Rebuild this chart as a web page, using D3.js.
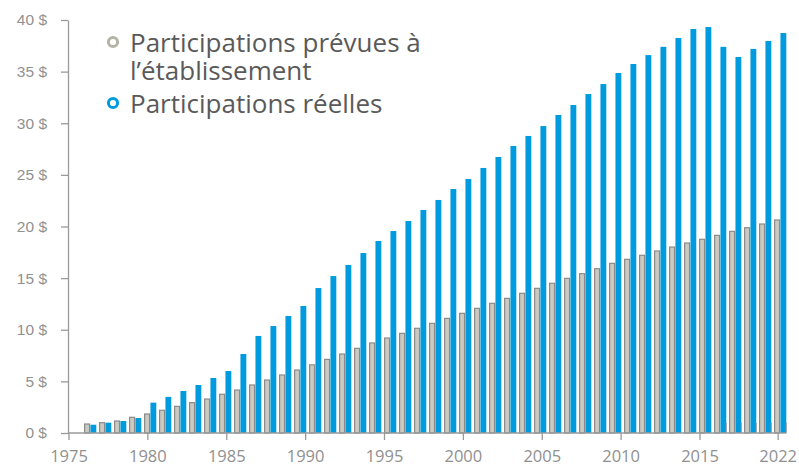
<!DOCTYPE html>
<html>
<head>
<meta charset="utf-8">
<script src="https://cdn.jsdelivr.net/npm/d3@7"></script>
<style>
  body { margin: 0; background: #fff; }
  svg { font-family: "Open Sans", Lato, sans-serif; }
</style>
</head>
<body>
<div id="viz-container"></div>
<script>
const years = d3.range(1976, 2023);
const prevues = [0.87, 1.0, 1.16, 1.52, 1.84, 2.2, 2.58, 2.94, 3.29, 3.75,
  4.16, 4.65, 5.13, 5.62, 6.1, 6.6, 7.13, 7.65, 8.2, 8.72,
  9.2, 9.65, 10.14, 10.62, 11.1, 11.59, 12.07, 12.56, 13.04, 13.53,
  14.01, 14.5, 14.98, 15.43, 15.91, 16.43, 16.82, 17.21, 17.63, 18.01,
  18.4, 18.76, 19.14, 19.53, 19.88, 20.24, 20.63];
const reelles = [0.8, 1.0, 1.16, 1.45, 2.94, 3.5, 4.07, 4.65, 5.33, 6.0,
  7.65, 9.4, 10.36, 11.33, 12.3, 14.04, 15.2, 16.27, 17.43, 18.6,
  19.56, 20.53, 21.6, 22.57, 23.63, 24.6, 25.67, 26.73, 27.8, 28.77,
  29.73, 30.8, 31.77, 32.83, 33.8, 34.87, 35.74, 36.6, 37.4, 38.26,
  39.13, 39.32, 37.4, 36.42, 37.2, 37.97, 38.74];
const yTicks = [0, 5, 10, 15, 20, 25, 30, 35, 40];
const xTicks = [1975, 1980, 1985, 1990, 1995, 2000, 2005, 2010, 2015];
const lastTick = 2022;
const series = ['prevues', 'reelles'];
const legendLabels = [['Participations prévues à', 'l\u2019établissement'], ['Participations réelles']];

const width = 799, height = 466;
const colors = { prevues: '#cbcac0', reelles: '#009bde' };
const axisColor = '#9a9a9a';

const svg = d3.select('#viz-container')
  .append('svg')
    .attr('width', width)
    .attr('height', height);

const y = d3.scaleLinear().domain([0, 40]).range([433, 20]);
const x = d3.scaleBand().domain(years).range([82.5, 787.8])
  .paddingInner(0.18).paddingOuter(0.1);
const xs = d3.scaleBand().domain(series).range([0, x.bandwidth()]);
// tick labels sit on their own (slightly wider) scale, as in the original
const xt = d3.scaleLinear().domain([1975, 2015]).range([69, 700]);

const data = years.map((yr, i) => ({ year: yr, prevues: prevues[i], reelles: reelles[i] }));

// bars
const groups = svg.append('g').selectAll('g')
  .data(data)
  .enter()
  .append('g')
    .attr('transform', d => 'translate(' + x(d.year) + ',0)');

groups.append('rect')
  .attr('x', xs('prevues') + 0.6)
  .attr('width', xs.bandwidth() - 1.2)
  .attr('y', d => y(d.prevues))
  .attr('height', d => y(0) - y(d.prevues))
  .attr('fill', colors.prevues)
  .attr('stroke', '#8a8a8a')
  .attr('stroke-width', 1.2);

groups.append('rect')
  .attr('x', xs('reelles') + 0.3)
  .attr('width', xs.bandwidth() - 0.3)
  .attr('y', d => y(d.reelles))
  .attr('height', d => y(0) - y(d.reelles))
  .attr('fill', colors.reelles);

// y axis
const yAxis = svg.append('g')
  .attr('transform', 'translate(68,0)')
  .call(d3.axisLeft(y).tickValues(yTicks).tickSize(7).tickSizeOuter(0).tickPadding(14)
    .tickFormat(d => d + ' $'));
yAxis.selectAll('path, line').attr('stroke', axisColor).attr('stroke-width', 1.3);
yAxis.selectAll('text').attr('fill', '#909090').style('font-size', '15.5px');

// x axis
const xAxis = svg.append('g');
xAxis.append('line')
  .attr('x1', 68).attr('x2', x(lastTick) + x.bandwidth())
  .attr('y1', y(0)).attr('y2', y(0))
  .attr('stroke', axisColor).attr('stroke-width', 1.3);

const tickPos = xTicks.map(t => ({ label: t, pos: xt(t) }))
  .concat([{ label: lastTick, pos: x(lastTick) + x.bandwidth() / 2 - 2 }]);

xAxis.selectAll('.tick')
  .data(tickPos)
  .enter()
  .append('g')
    .attr('class', 'tick')
    .attr('transform', d => 'translate(' + d.pos + ',' + y(0) + ')')
  .call(g => {
    g.append('line').attr('y2', 7).attr('stroke', axisColor).attr('stroke-width', 1.3);
    g.append('text')
      .attr('y', 29)
      .attr('text-anchor', 'middle')
      .attr('fill', '#909090')
      .style('font-size', '16.5px')
      .text(d => d.label);
  });

// little stray ticks at the end of the series
xAxis.selectAll('.minor')
  .data(years.filter(d => d >= 2018))
  .enter()
  .append('line')
    .attr('x1', d => x(d) + x.bandwidth())
    .attr('x2', d => x(d) + x.bandwidth())
    .attr('y1', y(0) - 10).attr('y2', y(0))
    .attr('stroke', axisColor).attr('stroke-width', 1);

// legend
const legend = svg.append('g');
const legendY = [42, 103];
series.forEach((s, i) => {
  legend.append('circle')
    .attr('cx', 113).attr('cy', legendY[i]).attr('r', 4.6)
    .attr('fill', 'none')
    .attr('stroke', s === 'prevues' ? '#b5b4a6' : colors.reelles)
    .attr('stroke-width', 3);
  legendLabels[i].forEach((line, j) => {
    legend.append('text')
      .attr('x', 130).attr('y', legendY[i] + 10 + j * 28)
      .attr('fill', '#5a5a5a')
      .style('font-size', '26px')
      .text(line);
  });
});
</script>
</body>
</html>
